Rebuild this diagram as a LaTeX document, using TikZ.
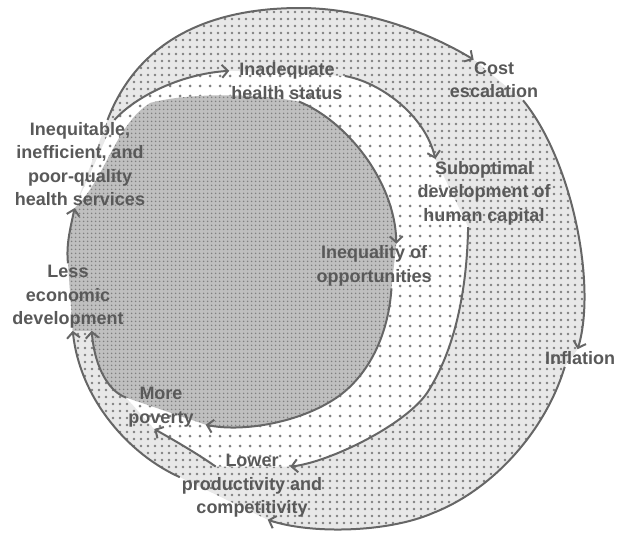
\documentclass[tikz,border=0pt]{standalone}
\usepackage{fontspec}
\setmainfont{Liberation Sans}
\usetikzlibrary{arrows.meta,patterns.meta,backgrounds}

\begin{document}
\begin{tikzpicture}[x=1pt,y=-1pt,>={Straight Barb[length=6pt,width=13pt]},
  lbl/.style={font=\fontsize{18}{23.5}\selectfont\bfseries,text=black!65,align=center,inner sep=2pt},
  conn/.style={->,draw=black!60,line width=2pt},
  outerdots/.style={preaction={fill=black!9},pattern={Dots[distance=6.5pt,radius=1.4pt]},pattern color=black!50},
  middots/.style={preaction={fill=white},pattern={Dots[distance=10pt,radius=1.5pt]},pattern color=black!50},
  innerdots/.style={preaction={fill=black!25},pattern={Dots[distance=4pt,radius=1pt]},pattern color=black!50}]
  \useasboundingbox (0,0) rectangle (617,536);

  \node[lbl] (ineq)   at (80,164)  {Inequitable,\\inefficient, and\\poor-quality\\health services};
  \node[lbl] (inad)   at (287,81)  {Inadequate\\health status};
  \node[lbl] (cost)   at (494,80)  {Cost\\escalation};
  \node[lbl] (subopt) at (484,193) {Suboptimal\\development of\\human capital};
  \node[lbl] (ineqop) at (374,266) {Inequality of\\opportunities};
  \node[lbl] (infl)   at (580,358) {Inflation};
  \node[lbl] (lower)  at (252,486) {Lower\\productivity and\\competitivity};
  \node[lbl] (pov)    at (161,407) {More\\poverty};
  \node[lbl] (less)   at (68,297)  {Less\\economic\\development};

  % the three loops
  \begin{scope}[on background layer]
    \fill[outerdots] (ineq.58) .. controls (138,40) and (210,8) .. (300,8)
      .. controls (360,8) and (425,30) .. (cost.135) -- (cost.-35)
      .. controls (572,160) and (597,285) .. (infl.105) -- (infl.210)
      .. controls (545,432) and (492,490) .. (433,513)
      .. controls (387,533) and (310,534) .. (lower.-65) -- (lower.173)
      .. controls (130,455) and (80,400) .. (less.-82) -- (less.north) -- (ineq.-97) -- cycle;
    \fill[middots] (ineq.52) .. controls (135,97) and (180,74) .. (inad.170) -- (inad.5)
      .. controls (380,82) and (425,115) .. (subopt.145) -- (subopt.245)
      .. controls (467,290) and (455,350) .. (427,393)
      .. controls (405,425) and (330,462) .. ([xshift=-34pt]lower.15) -- ([xshift=36pt]lower.165)
      .. controls (195,452) and (170,438) .. (pov.253) -- (pov.165)
      .. controls (110,392) and (95,370) .. (less.-55) -- (less.north) -- (ineq.-97) -- cycle;
    \fill[innerdots] (inad.-60) .. controls (345,120) and (395,180) .. (ineqop.45) -- (ineqop.-52)
      .. controls (388,340) and (365,380) .. (333,400)
      .. controls (295,424) and (240,432) .. ([xshift=10pt]pov.-27) -- (pov.165)
      .. controls (110,392) and (95,370) .. (less.-55) -- (less.-82) -- (less.north)
      .. controls (66,245) and (70,230) .. (ineq.-97)
      .. controls (105,180) and (115,125) .. (150,103)
      .. controls (190,92) and (260,94) .. (inad.-60) -- cycle;
  \end{scope}

  \draw[conn] (ineq.52) .. controls (135,97) and (180,74) .. (inad.170);
  \draw[conn] (ineq.58) .. controls (138,40) and (210,8) .. (300,8)
    .. controls (360,8) and (425,30) .. (cost.135);
  \draw[conn] (cost.-35) .. controls (572,160) and (597,285) .. (infl.105);
  \draw[conn] (infl.210) .. controls (545,432) and (492,490) .. (433,513)
    .. controls (387,533) and (310,534) .. (lower.-65);
  \draw[conn] (inad.5) .. controls (380,82) and (425,115) .. (subopt.145);
  \draw[conn] (inad.-60) .. controls (345,120) and (395,180) .. (ineqop.45);
  \draw[conn] (subopt.245) .. controls (467,290) and (455,350) .. (427,393)
    .. controls (405,425) and (330,462) .. ([xshift=-34pt]lower.15);
  \draw[conn] (ineqop.-52) .. controls (388,340) and (365,380) .. (333,400)
    .. controls (295,424) and (240,432) .. ([xshift=10pt]pov.-27);
  \draw[conn] ([xshift=36pt]lower.165) .. controls (195,452) and (170,438) .. (pov.253);
  \draw[conn] (lower.173) .. controls (130,455) and (80,400) .. (less.-82);
  \draw[conn] (pov.165) .. controls (110,392) and (95,370) .. (less.-55);
  \draw[conn] (less.north) .. controls (66,245) and (70,230) .. (ineq.-97);
\end{tikzpicture}
\end{document}
